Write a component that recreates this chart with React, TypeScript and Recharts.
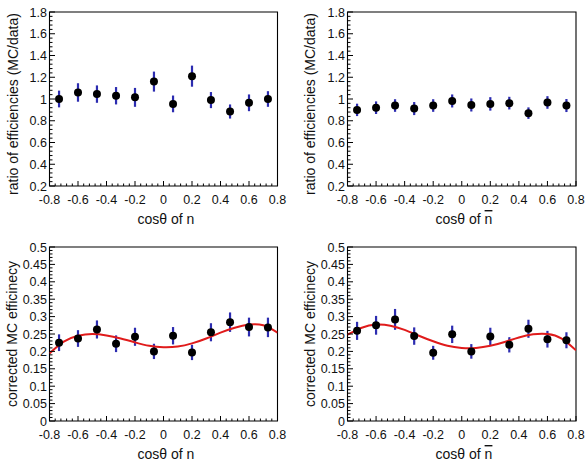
import React from 'react';
import { ComposedChart, Scatter, Line, XAxis, YAxis, ErrorBar, ReferenceArea } from 'recharts';

const FONT = '"Liberation Sans", Arial, Helvetica, sans-serif';
const ERR_COLOR = '#2c2cb0';
const FIT_COLOR = '#e01b1b';

// bin centres in cos(theta), 12 bins over [-0.8, 0.8]
const binCenters = [-0.733, -0.6, -0.467, -0.333, -0.2, -0.067, 0.067, 0.2, 0.333, 0.467, 0.6, 0.733];

// ratio of efficiencies MC/data
const ratioN = [1.0, 1.06, 1.045, 1.03, 1.015, 1.16, 0.955, 1.21, 0.99, 0.885, 0.965, 1.0];
const ratioNErr = [0.077, 0.085, 0.08, 0.08, 0.087, 0.092, 0.077, 0.097, 0.074, 0.065, 0.077, 0.072];
const ratioNbar = [0.9, 0.92, 0.94, 0.912, 0.94, 0.982, 0.945, 0.955, 0.962, 0.87, 0.968, 0.94];
const ratioNbarErr = [0.057, 0.058, 0.058, 0.06, 0.058, 0.06, 0.06, 0.062, 0.058, 0.053, 0.058, 0.06];

// corrected MC efficiency
const effN = [0.225, 0.237, 0.263, 0.222, 0.242, 0.2, 0.245, 0.197, 0.255, 0.284, 0.27, 0.269];
const effNErr = [0.024, 0.024, 0.026, 0.024, 0.026, 0.022, 0.025, 0.022, 0.026, 0.028, 0.027, 0.028];
const effNbar = [0.259, 0.275, 0.292, 0.244, 0.196, 0.249, 0.2, 0.243, 0.219, 0.265, 0.235, 0.232];
const effNbarErr = [0.026, 0.027, 0.03, 0.025, 0.02, 0.025, 0.021, 0.025, 0.022, 0.026, 0.024, 0.023];

// fitted curves, sampled along cos(theta)
const fitX = [-0.8, -0.7, -0.6, -0.5, -0.4, -0.3, -0.2, -0.1, 0, 0.1, 0.2, 0.3, 0.4, 0.5, 0.6, 0.7, 0.8];
const fitN = [0.194, 0.228, 0.245, 0.25, 0.246, 0.237, 0.226, 0.216, 0.212, 0.214, 0.223, 0.237, 0.254, 0.268, 0.277, 0.275, 0.254];
const fitNbar = [0.248, 0.268, 0.277, 0.274, 0.262, 0.245, 0.229, 0.216, 0.21, 0.21, 0.216, 0.227, 0.24, 0.249, 0.25, 0.237, 0.203];

const xTickValues = [-0.8, -0.6, -0.4, -0.2, 0, 0.2, 0.4, 0.6, 0.8];
const xTickLabels = ['-0.8', '-0.6', '-0.4', '-0.2', '0', '0.2', '0.4', '0.6', '0.8'];
const ratioTickValues = [0.2, 0.4, 0.6, 0.8, 1, 1.2, 1.4, 1.6, 1.8];
const ratioTickLabels = ['0.2', '0.4', '0.6', '0.8', '1', '1.2', '1.4', '1.6', '1.8'];
const effTickValues = [0, 0.05, 0.1, 0.15, 0.2, 0.25, 0.3, 0.35, 0.4, 0.45, 0.5];
const effTickLabels = ['0', '0.05', '0.1', '0.15', '0.2', '0.25', '0.3', '0.35', '0.4', '0.45', '0.5'];

// major ticks plus 4 minor ticks between each pair
function withMinor(values: number[]) {
  const out: number[] = [];
  for (let i = 0; i < values.length - 1; i++) {
    const step = (values[i + 1] - values[i]) / 5;
    for (let k = 0; k < 5; k++) out.push(+(values[i] + k * step).toFixed(6));
  }
  out.push(values[values.length - 1]);
  return out;
}

function labelFor(values: number[], labels: string[], v: number) {
  const i = values.findIndex((m) => Math.abs(m - v) < 1e-6);
  return i >= 0 ? labels[i] : null;
}

const makeXTick = (values: number[], labels: string[]) => (props: any) => {
  const { x, y, payload } = props;
  const label = labelFor(values, labels, payload.value);
  const len = label !== null ? 5 : 2.5;
  return (
    <g>
      <line x1={x} y1={y} x2={x} y2={y - len} stroke="#000" strokeWidth={1} />
      {label !== null && (
        <text x={x} y={y + 18} textAnchor="middle" fontSize={12.5} fontFamily={FONT} fill="#111">
          {label}
        </text>
      )}
    </g>
  );
};

const makeYTick = (values: number[], labels: string[]) => (props: any) => {
  const { x, y, payload } = props;
  const label = labelFor(values, labels, payload.value);
  const len = label !== null ? 5.5 : 3;
  return (
    <g>
      <line x1={x} y1={y} x2={x + len} y2={y} stroke="#000" strokeWidth={1} />
      {label !== null && (
        <text x={x - 2.5} y={y + 4.5} textAnchor="end" fontSize={12.5} fontFamily={FONT} fill="#111">
          {label}
        </text>
      )}
    </g>
  );
};

const Dot = (props: any) => <circle cx={props.cx} cy={props.cy} r={4} fill="#000" />;

type PanelProps = {
  left: number;
  top: number;
  values: number[];
  errors: number[];
  fit?: number[];
  yValues: number[];
  yLabels: string[];
  yTitle: string;
  yTitleX: number;
  yTitleY: number;
  bar: boolean;
  // plot frame edges inside the 294x235 panel
  frame: { top: number; right: number; bottom: number; left: number };
};

function Panel(p: PanelProps) {
  const points = binCenters.map((x, i) => ({ x, y: p.values[i], err: p.errors[i] }));
  const curve = p.fit ? fitX.map((x, i) => ({ x, y: p.fit![i] })) : null;
  const yMin = p.yValues[0];
  const yMax = p.yValues[p.yValues.length - 1];
  const titleX = p.bar ? 170 : 166;
  // axes take 1px each, so the margins are one less than the frame offsets
  const margin = {
    top: p.frame.top,
    right: 294 - p.frame.right,
    bottom: 235 - p.frame.bottom - 1,
    left: p.frame.left - 1,
  };

  return (
    <div style={{ position: 'absolute', left: p.left, top: p.top, width: 294, height: 235 }}>
      <ComposedChart width={294} height={235} margin={margin}>
        <XAxis
          dataKey="x"
          type="number"
          domain={[-0.8, 0.8]}
          ticks={withMinor(xTickValues)}
          interval={0}
          tickSize={0}
          tickMargin={0}
          height={1}
          axisLine={false}
          tickLine={false}
          tick={makeXTick(xTickValues, xTickLabels)}
          allowDataOverflow
          label={{
            content: () => (
              <text x={titleX} y={224} textAnchor="middle" fontSize={14} fontFamily={FONT} fill="#111">
                cosθ of {p.bar ? <tspan style={{ textDecoration: 'overline' }}>n</tspan> : 'n'}
              </text>
            ),
          }}
        />
        <YAxis
          type="number"
          domain={[yMin, yMax]}
          ticks={withMinor(p.yValues)}
          interval={0}
          tickSize={0}
          tickMargin={0}
          width={1}
          axisLine={false}
          tickLine={false}
          tick={makeYTick(p.yValues, p.yLabels)}
          allowDataOverflow
          label={{
            content: () => (
              <text
                x={p.yTitleX}
                y={p.yTitleY}
                transform={`rotate(-90 ${p.yTitleX} ${p.yTitleY})`}
                textAnchor="middle"
                dominantBaseline="central"
                fontSize={14}
                fontFamily={FONT}
                fill="#111"
              >
                {p.yTitle}
              </text>
            ),
          }}
        />
        <ReferenceArea x1={-0.8} x2={0.8} y1={yMin} y2={yMax} fill="none" stroke="#000" strokeWidth={1.1} />
        <Scatter data={points} dataKey="y" shape={Dot} isAnimationActive={false}>
          <ErrorBar dataKey="err" direction="y" width={0} stroke={ERR_COLOR} strokeWidth={2.2} />
        </Scatter>
        {curve && (
          <Line
            data={curve}
            dataKey="y"
            type="natural"
            dot={false}
            activeDot={false}
            stroke={FIT_COLOR}
            strokeWidth={2}
            isAnimationActive={false}
          />
        )}
      </ComposedChart>
    </div>
  );
}

export default function App() {
  return (
    <div style={{ position: 'absolute', left: 0, top: 0, width: 588, height: 470, background: '#fff' }}>
      <Panel
        left={0}
        top={0}
        values={ratioN}
        errors={ratioNErr}
        yValues={ratioTickValues}
        yLabels={ratioTickLabels}
        yTitle="ratio of efficiencies (MC/data)"
        yTitleX={13}
        yTitleY={104}
        bar={false}
        frame={{ top: 12, right: 277.5, bottom: 186, left: 49.5 }}
      />
      <Panel
        left={294}
        top={0}
        values={ratioNbar}
        errors={ratioNbarErr}
        yValues={ratioTickValues}
        yLabels={ratioTickLabels}
        yTitle="ratio of efficiencies (MC/data)"
        yTitleX={16}
        yTitleY={104}
        bar
        frame={{ top: 12, right: 282, bottom: 186, left: 53.5 }}
      />
      <Panel
        left={0}
        top={235}
        values={effN}
        errors={effNErr}
        fit={fitN}
        yValues={effTickValues}
        yLabels={effTickLabels}
        yTitle="corrected MC efficinecy"
        yTitleX={12}
        yTitleY={99}
        bar={false}
        frame={{ top: 12, right: 277.5, bottom: 186, left: 49.5 }}
      />
      <Panel
        left={294}
        top={235}
        values={effNbar}
        errors={effNbarErr}
        fit={fitNbar}
        yValues={effTickValues}
        yLabels={effTickLabels}
        yTitle="corrected MC efficinecy"
        yTitleX={16}
        yTitleY={99}
        bar
        frame={{ top: 12, right: 282, bottom: 186, left: 53.5 }}
      />
    </div>
  );
}
